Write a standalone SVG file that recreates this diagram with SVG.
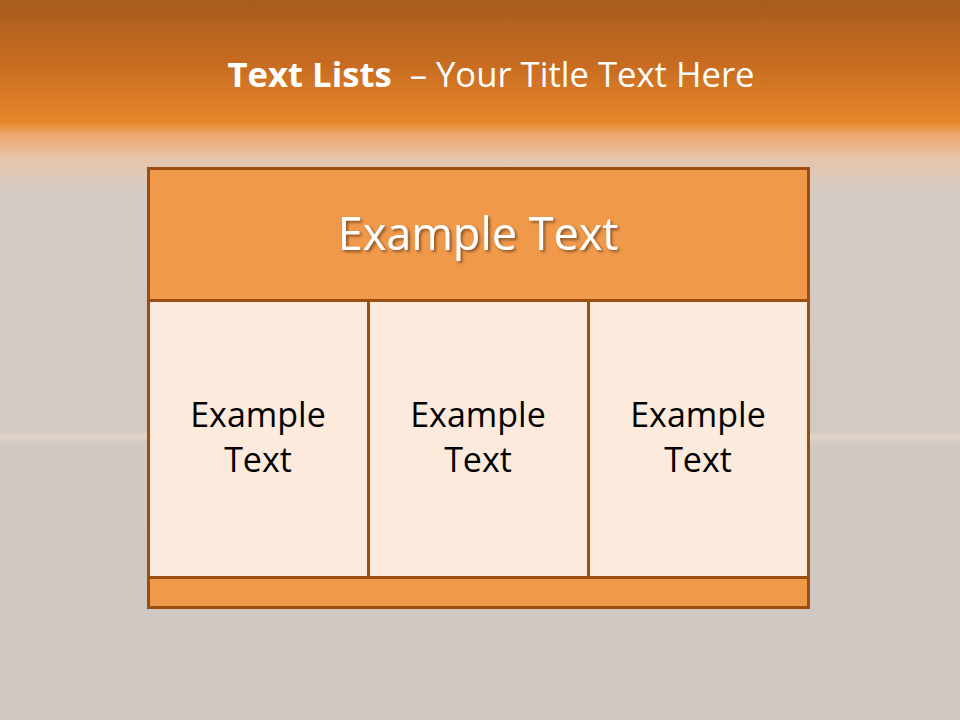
<svg xmlns="http://www.w3.org/2000/svg" width="960" height="720" viewBox="0 0 960 720">
<defs>
<linearGradient id="bg" x1="0" y1="0" x2="0" y2="1">
<stop offset="0" stop-color="#a85c1d"/>
<stop offset="0.09" stop-color="#c76c21"/>
<stop offset="0.17" stop-color="#e8872b"/>
<stop offset="0.185" stop-color="#eca56a"/>
<stop offset="0.22" stop-color="#e6c5ac"/>
<stop offset="0.27" stop-color="#d3cbc4"/>
<stop offset="1" stop-color="#cfc8c2"/>
</linearGradient>
<linearGradient id="hz" x1="0" y1="0" x2="0" y2="1">
<stop offset="0" stop-color="#cfc8c2" stop-opacity="0"/>
<stop offset="0.5" stop-color="#e6d6ca"/>
<stop offset="1" stop-color="#cfc8c2" stop-opacity="0"/>
</linearGradient>
<filter id="sh" x="-10%" y="-30%" width="120%" height="160%">
<feDropShadow dx="2" dy="2" stdDeviation="1.5" flood-color="#000" flood-opacity="0.45"/>
</filter>
</defs>
<style>
.box{stroke:#9a4e0f;stroke-width:3}
.hdr{fill:#f1994b}
.cell{fill:#fcebdd}
.t{font-family:"Open Sans","Noto Sans","Liberation Sans",sans-serif;text-anchor:middle}
</style>
<rect width="960" height="720" fill="url(#bg)"/>
<rect x="0" y="428" width="960" height="18" fill="url(#hz)"/>
<g id="title">
<text class="t" x="491" y="87" fill="#ffffff" font-size="34" textLength="527" lengthAdjust="spacingAndGlyphs"><tspan font-weight="bold">Text Lists</tspan><tspan xml:space="preserve">  – Your Title Text Here</tspan></text>
</g>
<g id="header">
<rect class="box hdr" x="148.5" y="168.5" width="660" height="132"/>
<text class="t" x="478" y="250" fill="#ffffff" font-size="45" filter="url(#sh)">Example Text</text>
</g>
<g id="col1">
<rect class="box cell" x="148.5" y="300.5" width="220" height="277"/>
<text class="t" x="258" y="427" fill="#000" font-size="34">Example</text>
<text class="t" x="258" y="472" fill="#000" font-size="34">Text</text>
</g>
<g id="col2">
<rect class="box cell" x="368.5" y="300.5" width="220" height="277"/>
<text class="t" x="478" y="427" fill="#000" font-size="34">Example</text>
<text class="t" x="478" y="472" fill="#000" font-size="34">Text</text>
</g>
<g id="col3">
<rect class="box cell" x="588.5" y="300.5" width="220" height="277"/>
<text class="t" x="698" y="427" fill="#000" font-size="34">Example</text>
<text class="t" x="698" y="472" fill="#000" font-size="34">Text</text>
</g>
<g id="footer">
<rect class="box hdr" x="148.5" y="577.5" width="660" height="30"/>
</g>
<g id="connectors"/>
</svg>
